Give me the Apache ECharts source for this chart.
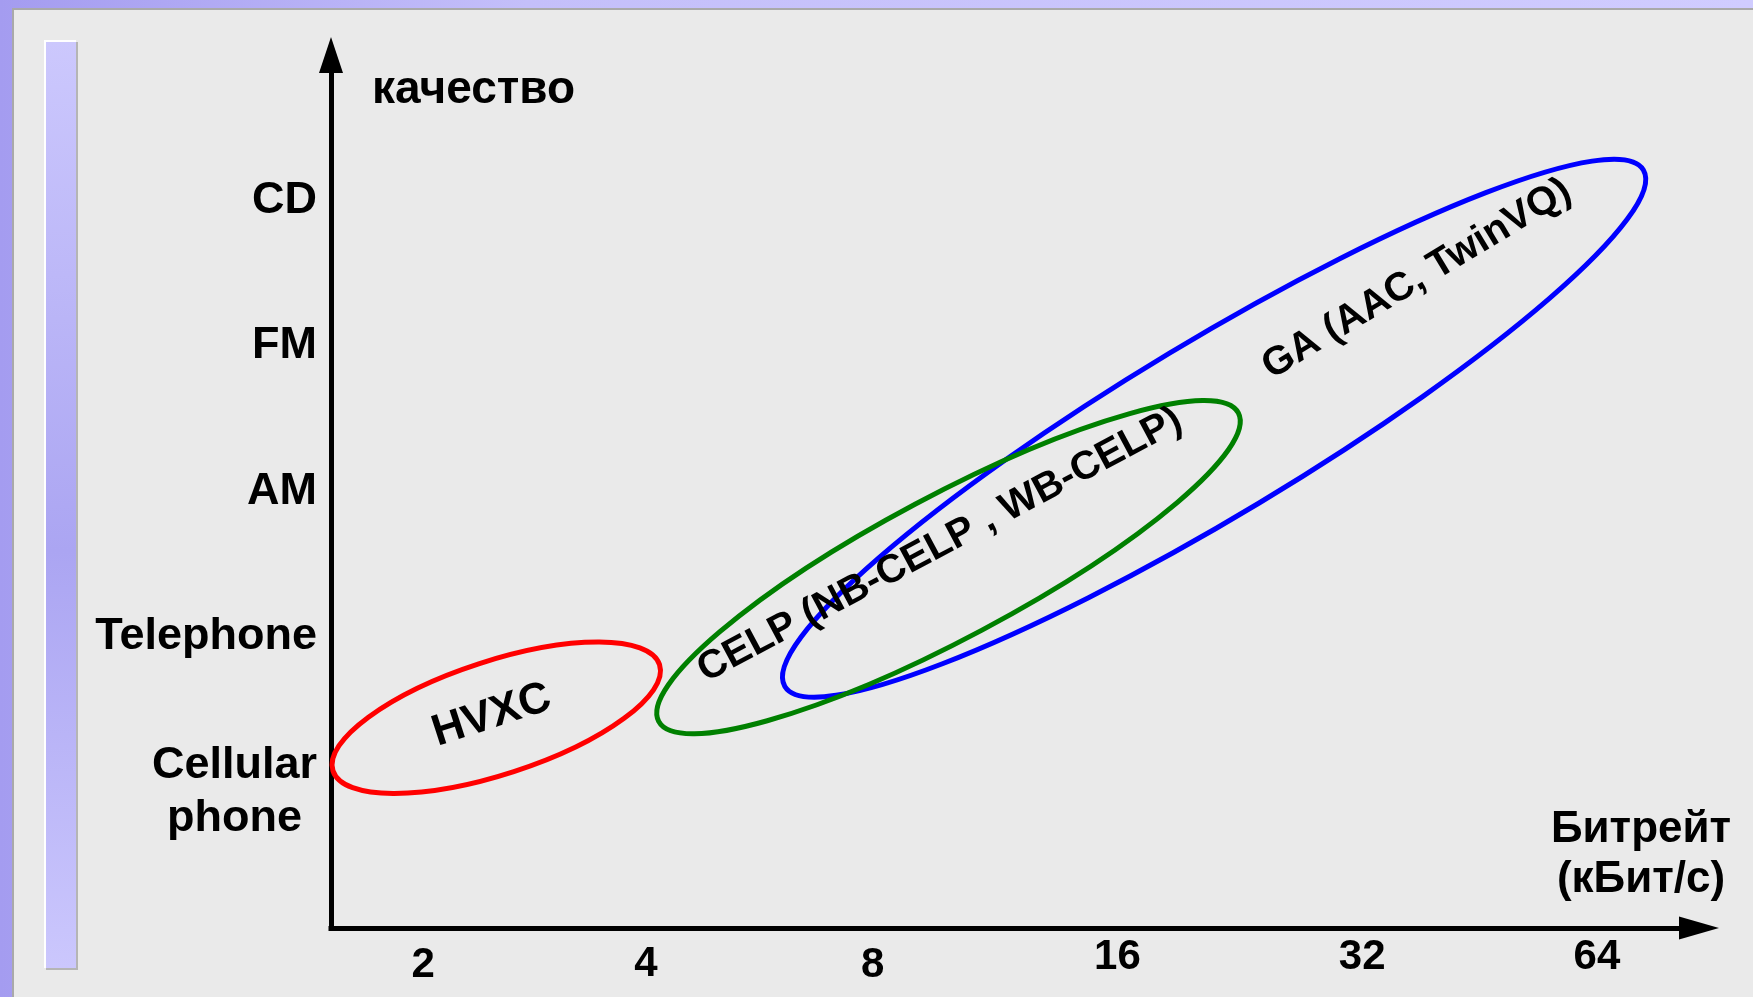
<!DOCTYPE html>
<html>
<head>
<meta charset="utf-8">
<script src="https://cdn.jsdelivr.net/npm/echarts@6/dist/echarts.min.js"></script>
<style>
  html, body { margin: 0; padding: 0; background: #eaeaea; }
  #chart { width: 1753px; height: 997px; }
</style>
</head>
<body>
<div id="chart"></div>
<script>
// codec regions: each ellipse is given by the two ends of its long axis
// (bitrate kbit/s, quality level) and its half-width in quality levels
var codecs = ['HVXC', 'CELP (NB-CELP , WB-CELP)', 'GA (AAC, TwinVQ)'];
var rateStart = [1.533, 4.01, 5.82];
var rateEnd = [4.02, 22.2, 73.4];
var qualStart = [1.08, 1.42, 1.66];
var qualEnd = [1.81, 3.54, 5.21];
var halfWidth = [0.39, 0.49, 0.60];
var labelRate = [2.45, 9.2, 37.6];
var labelQual = [1.46, 2.63, 4.46];

var rateTicks = [2, 4, 8, 16, 32, 64];
var qualityNames = ['', 'Cellular\nphone', 'Telephone', 'AM', 'FM', 'CD'];

var colors = ['#ff0000', '#008000', '#0000ff'];
var labelFont = [44, 40, 40];
var ellipseZ = [1, 3, 2];
var FONT = '"Liberation Sans", Arial, sans-serif';

var rows = codecs.map(function (c, i) {
  return [rateStart[i], qualStart[i], rateEnd[i], qualEnd[i], halfWidth[i], labelRate[i], labelQual[i]];
});

function renderItem(params, api) {
  var i = params.dataIndex;
  var a = api.coord([api.value(0), api.value(1)]);
  var b = api.coord([api.value(2), api.value(3)]);
  var base = api.coord([api.value(0), 0]);
  var top = api.coord([api.value(0), api.value(4)]);
  var lp = api.coord([api.value(5), api.value(6)]);
  var rx = Math.sqrt((b[0] - a[0]) * (b[0] - a[0]) + (b[1] - a[1]) * (b[1] - a[1])) / 2;
  var ry = base[1] - top[1];
  var ang = Math.atan2(a[1] - b[1], b[0] - a[0]);
  return {
    type: 'group',
    children: [
      {
        type: 'ellipse',
        x: (a[0] + b[0]) / 2, y: (a[1] + b[1]) / 2,
        rotation: ang,
        shape: { cx: 0, cy: 0, rx: rx, ry: ry },
        style: { fill: 'none', stroke: colors[i], lineWidth: 5 },
        z2: ellipseZ[i]
      },
      {
        type: 'text',
        x: lp[0], y: lp[1],
        rotation: ang,
        style: {
          text: codecs[i],
          font: 'bold ' + labelFont[i] + 'px ' + FONT,
          fill: '#000',
          align: 'center',
          verticalAlign: 'middle'
        },
        z2: 10
      }
    ]
  };
}

// tick label nudges (the original slide's labels are not evenly spaced)
var tickStyle = {
  2: 'a', 4: 'b', 8: 'c', 16: 'd', 32: 'e', 64: 'e'
};
function tickRich(lh, padRight) {
  return { fontSize: 42, fontWeight: 'bold', fontFamily: FONT, color: '#000',
           lineHeight: lh, padding: [0, padRight, 0, 0] };
}

var chart = echarts.init(document.getElementById('chart'));

chart.setOption({
  animation: false,
  backgroundColor: new echarts.graphic.LinearGradient(0, 0, 1, 0, [
    { offset: 0, color: '#a49cf0' },
    { offset: 0.3, color: '#c4bffa' },
    { offset: 1, color: '#d0ccff' }
  ]),
  graphic: [
    { type: 'rect', z: -10, shape: { x: 13, y: 9, width: 1760, height: 1000 },
      style: { fill: '#eaeaea', stroke: '#a9a9a9', lineWidth: 2 } },
    { type: 'rect', z: -9, shape: { x: 46, y: 42, width: 32, height: 928 }, style: { fill: '#b5b5b5' } },
    { type: 'rect', z: -8, shape: { x: 44, y: 40, width: 32, height: 928 }, style: { fill: '#ffffff' } },
    { type: 'rect', z: -7, shape: { x: 46, y: 42, width: 30, height: 926 },
      style: { fill: new echarts.graphic.LinearGradient(0, 0, 0, 1, [
        { offset: 0, color: '#ccc8fd' },
        { offset: 0.55, color: '#aba5f2' },
        { offset: 1, color: '#cbc7fd' }
      ]) } }
  ],
  grid: { left: 331, right: 54, top: 55, bottom: 69 },
  xAxis: {
    type: 'log',
    logBase: 2,
    min: 1.524,
    max: 86.5,
    axisLine: {
      lineStyle: { color: '#000', width: 5, cap: 'square' },
      symbol: ['none', 'triangle'],
      symbolSize: [23, 40]
    },
    axisTick: { show: false },
    splitLine: { show: false },
    axisLabel: {
      margin: 8,
      color: '#000',
      fontSize: 42,
      fontWeight: 'bold',
      fontFamily: FONT,
      formatter: function (v) {
        for (var k = 0; k < rateTicks.length; k++) {
          if (Math.abs(rateTicks[k] - v) < 1e-6) {
            return '{' + tickStyle[rateTicks[k]] + '|' + rateTicks[k] + '}';
          }
        }
        return '';
      },
      rich: {
        a: tickRich(58, 0),
        b: tickRich(56, 24),
        c: tickRich(58, 40),
        d: tickRich(42, 20),
        e: tickRich(42, 0)
      }
    },
    name: 'Битрейт\n(кБит/с)',
    nameLocation: 'end',
    nameGap: -58,
    nameTextStyle: {
      color: '#000', fontSize: 44, fontWeight: 'bold', fontFamily: FONT,
      align: 'center', verticalAlign: 'bottom', lineHeight: 50, padding: [0, 0, 23, 0]
    }
  },
  yAxis: {
    type: 'value',
    min: 0,
    max: 6,
    interval: 1,
    axisLine: {
      show: true,
      lineStyle: { color: '#000', width: 5 },
      symbol: ['none', 'triangle'],
      symbolSize: [24, 36]
    },
    axisTick: { show: false },
    splitLine: { show: false },
    axisLabel: {
      margin: 14,
      color: '#000',
      fontSize: 45,
      fontWeight: 'bold',
      fontFamily: FONT,
      formatter: function (v) {
        var name = qualityNames[Math.round(v)];
        if (Math.abs(v - Math.round(v)) > 1e-6 || !name) return '';
        if (name.indexOf('\n') >= 0) {
          var parts = name.split('\n');
          return '{s| }\n{c|' + parts[0] + '}\n{c|' + parts[1] + '}';
        }
        return name;
      },
      rich: {
        s: { fontSize: 10, lineHeight: 20 },
        c: { fontSize: 45, fontWeight: 'bold', fontFamily: FONT, color: '#000', lineHeight: 53, align: 'center' }
      }
    },
    name: 'качество',
    nameLocation: 'end',
    nameGap: -35,
    nameTextStyle: {
      color: '#000', fontSize: 46, fontWeight: 'bold', fontFamily: FONT,
      align: 'left', verticalAlign: 'middle', padding: [0, 0, 0, 41]
    }
  },
  series: [{
    type: 'custom',
    coordinateSystem: 'cartesian2d',
    silent: true,
    renderItem: renderItem,
    encode: { x: [0, 2, 5], y: [1, 3, 6] },
    data: rows
  }]
});
</script>
</body>
</html>
